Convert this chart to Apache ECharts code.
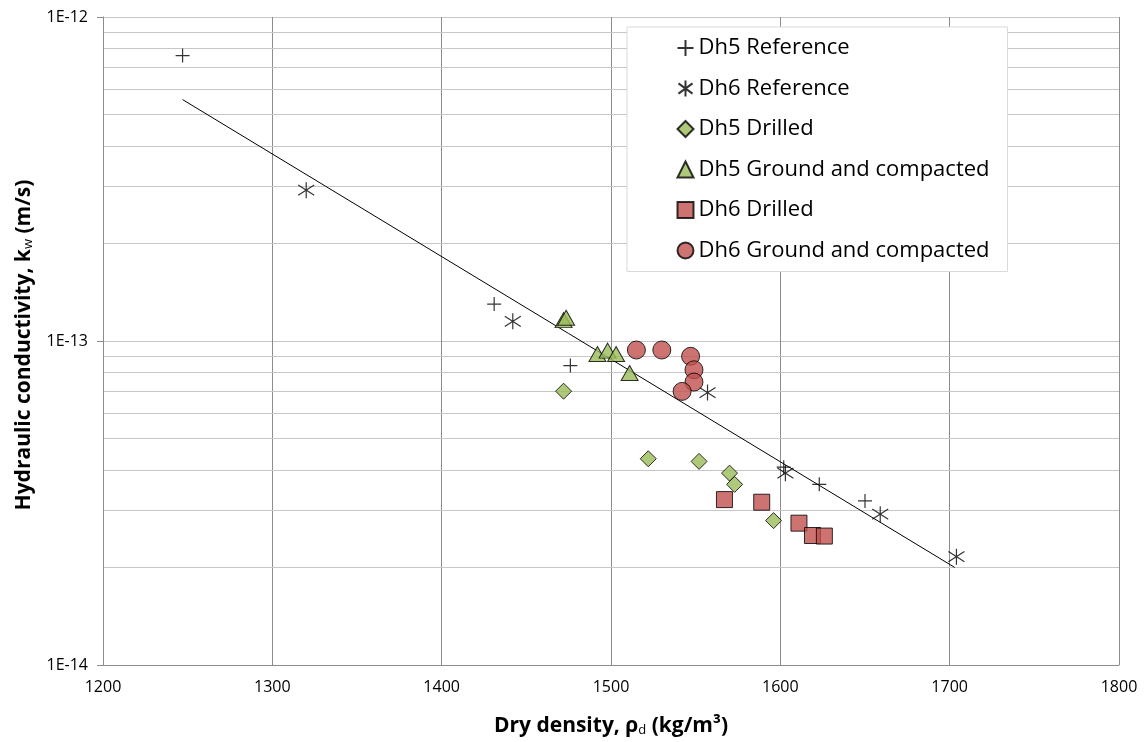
<!DOCTYPE html>
<html lang="en">
<head>
    <meta charset="UTF-8">
    <title>Hydraulic conductivity vs dry density</title>
    <script src="https://cdn.jsdelivr.net/npm/echarts@6/dist/echarts.min.js"></script>
    <style>
        html, body { margin: 0; padding: 0; background: #fff; }
        #chart { width: 1147px; height: 742px; }
    </style>
</head>
<body>
    <div id="chart"></div>
    <script>
        // Values (dry density in kg/m3, k in m/s)
        var dh5RefX = [1247, 1431, 1476, 1602, 1623, 1650];
        var dh5RefK = [7.6e-13, 1.30e-13, 8.4e-14, 4.08e-14, 3.61e-14, 3.21e-14];

        var dh6RefX = [1320, 1442, 1557, 1603, 1659, 1704];
        var dh6RefK = [2.92e-13, 1.15e-13, 6.93e-14, 3.91e-14, 2.92e-14, 2.16e-14];

        var dh5DrX = [1472, 1522, 1552, 1570, 1573, 1596];
        var dh5DrK = [7.0e-14, 4.33e-14, 4.25e-14, 3.91e-14, 3.61e-14, 2.79e-14];

        var dh5GcX = [1472, 1473.5, 1492, 1498, 1503, 1511];
        var dh5GcK = [1.16e-13, 1.18e-13, 9.12e-14, 9.34e-14, 9.12e-14, 7.97e-14];

        var dh6DrX = [1567, 1589, 1611, 1619, 1626];
        var dh6DrK = [3.24e-14, 3.18e-14, 2.74e-14, 2.51e-14, 2.50e-14];

        var dh6GcX = [1515, 1530, 1547, 1549, 1549, 1542];
        var dh6GcK = [9.38e-14, 9.38e-14, 8.97e-14, 8.15e-14, 7.47e-14, 6.99e-14];

        // fitted trend line end points
        var trendX = [1247, 1703];
        var trendK = [5.56e-13, 2.0e-14];

        // minor grid lines of the log axis
        var minorK = [2e-14, 3e-14, 4e-14, 5e-14, 6e-14, 7e-14, 8e-14, 9e-14,
                      2e-13, 3e-13, 4e-13, 5e-13, 6e-13, 7e-13, 8e-13, 9e-13];
        var xMin = 1200, xMax = 1800;

        function zip(xs, ys) {
            return xs.map(function (x, i) { return [x, ys[i]]; });
        }

        var FONT = 'Open Sans';
        var green = '#9BBB59';
        var red = '#C0504D';
        var plusPath = 'path://M0,5L10,5M5,0L5,10';
        var starPath = 'path://M5,0L5,10M0.6,1.8L9.4,8.2M0.6,8.2L9.4,1.8';

        var chart = echarts.init(document.getElementById('chart'));

        function titleRich(size) {
            return {
                b: { fontFamily: FONT, fontSize: size, fontWeight: 'bold', color: '#000' },
                s: { fontFamily: FONT, fontSize: 13, fontWeight: 'normal', color: '#000', verticalAlign: 'bottom', padding: [8, 0, 0, 0] }
            };
        }

        var option = {
            animation: false,
            textStyle: { fontFamily: FONT },
            grid: { left: 103, right: 28, top: 17, bottom: 73 },
            // y axis title placed by hand so that it is centred on the plot
            graphic: [{
                type: 'text',
                x: 24,
                y: 345,
                rotation: Math.PI / 2,
                style: {
                    text: '{b|Hydraulic conductivity, k}{s|w}{b| (m/s)}',
                    rich: titleRich(21),
                    align: 'center',
                    verticalAlign: 'middle'
                }
            }],
            legend: {
                orient: 'vertical',
                left: 627,
                top: 27,
                padding: [10, 18, 10, 48],
                itemGap: 18.5,
                itemWidth: 16,
                itemHeight: 16,
                backgroundColor: '#fff',
                borderColor: '#d9d9d9',
                borderWidth: 1,
                textStyle: { fontFamily: FONT, fontSize: 22, color: '#000' },
                data: ['Dh5 Reference', 'Dh6 Reference', 'Dh5 Drilled',
                       'Dh5 Ground and compacted', 'Dh6 Drilled', 'Dh6 Ground and compacted']
            },
            xAxis: {
                type: 'value',
                min: xMin,
                max: xMax,
                interval: 100,
                name: '{b|Dry density, ρ}{s|d}{b| (kg/m³)}',
                nameLocation: 'middle',
                nameGap: 51,
                nameTextStyle: { rich: titleRich(21) },
                axisLine: { lineStyle: { color: '#8c8c8c' } },
                axisTick: { show: false },
                axisLabel: {
                    fontFamily: FONT, fontSize: 16, color: '#000', margin: 14,
                    formatter: function (v) { return String(v); }
                },
                splitLine: { show: true, lineStyle: { color: '#8c8c8c', width: 1 } }
            },
            yAxis: {
                type: 'log',
                logBase: 10,
                min: 1e-14,
                max: 1e-12,
                axisLine: { show: true, lineStyle: { color: '#8c8c8c' } },
                axisTick: { show: true, length: 6, lineStyle: { color: '#8c8c8c' } },
                axisLabel: {
                    fontFamily: FONT, fontSize: 16, color: '#000', margin: 15,
                    formatter: function (v) { return '1E' + Math.round(Math.log10(v)); }
                },
                splitLine: { show: true, lineStyle: { color: '#c6c6c6', width: 1 } }
            },
            series: [
                {
                    name: 'minor',
                    type: 'lines',
                    coordinateSystem: 'cartesian2d',
                    silent: true,
                    z: 0,
                    lineStyle: { color: '#c6c6c6', width: 1, opacity: 1 },
                    data: minorK.map(function (k) { return { coords: [[xMin, k], [xMax, k]] }; })
                },
                {
                    name: 'trend',
                    type: 'line',
                    data: zip(trendX, trendK),
                    symbol: 'none',
                    silent: true,
                    lineStyle: { color: '#000', width: 1 },
                    z: 1
                },
                {
                    name: 'Dh5 Reference',
                    type: 'scatter',
                    data: zip(dh5RefX, dh5RefK),
                    symbol: plusPath,
                    symbolSize: 14,
                    itemStyle: { color: 'none', borderColor: '#000', borderWidth: 1.2 }
                },
                {
                    name: 'Dh6 Reference',
                    type: 'scatter',
                    data: zip(dh6RefX, dh6RefK),
                    symbol: starPath,
                    symbolSize: 16,
                    itemStyle: { color: 'none', borderColor: '#000', borderWidth: 1.2 }
                },
                {
                    name: 'Dh5 Drilled',
                    type: 'scatter',
                    data: zip(dh5DrX, dh5DrK),
                    symbol: 'diamond',
                    symbolSize: [16, 16],
                    itemStyle: { color: green, borderColor: '#000', borderWidth: 1 }
                },
                {
                    name: 'Dh5 Ground and compacted',
                    type: 'scatter',
                    data: zip(dh5GcX, dh5GcK),
                    symbol: 'triangle',
                    symbolSize: [17, 15],
                    itemStyle: { color: green, borderColor: '#000', borderWidth: 1 }
                },
                {
                    name: 'Dh6 Drilled',
                    type: 'scatter',
                    data: zip(dh6DrX, dh6DrK),
                    symbol: 'rect',
                    symbolSize: 16,
                    itemStyle: { color: red, borderColor: '#000', borderWidth: 1 }
                },
                {
                    name: 'Dh6 Ground and compacted',
                    type: 'scatter',
                    data: zip(dh6GcX, dh6GcK),
                    symbol: 'circle',
                    symbolSize: 18,
                    itemStyle: { color: red, borderColor: '#000', borderWidth: 1 }
                }
            ]
        };

        chart.setOption(option);
    </script>
</body>
</html>
